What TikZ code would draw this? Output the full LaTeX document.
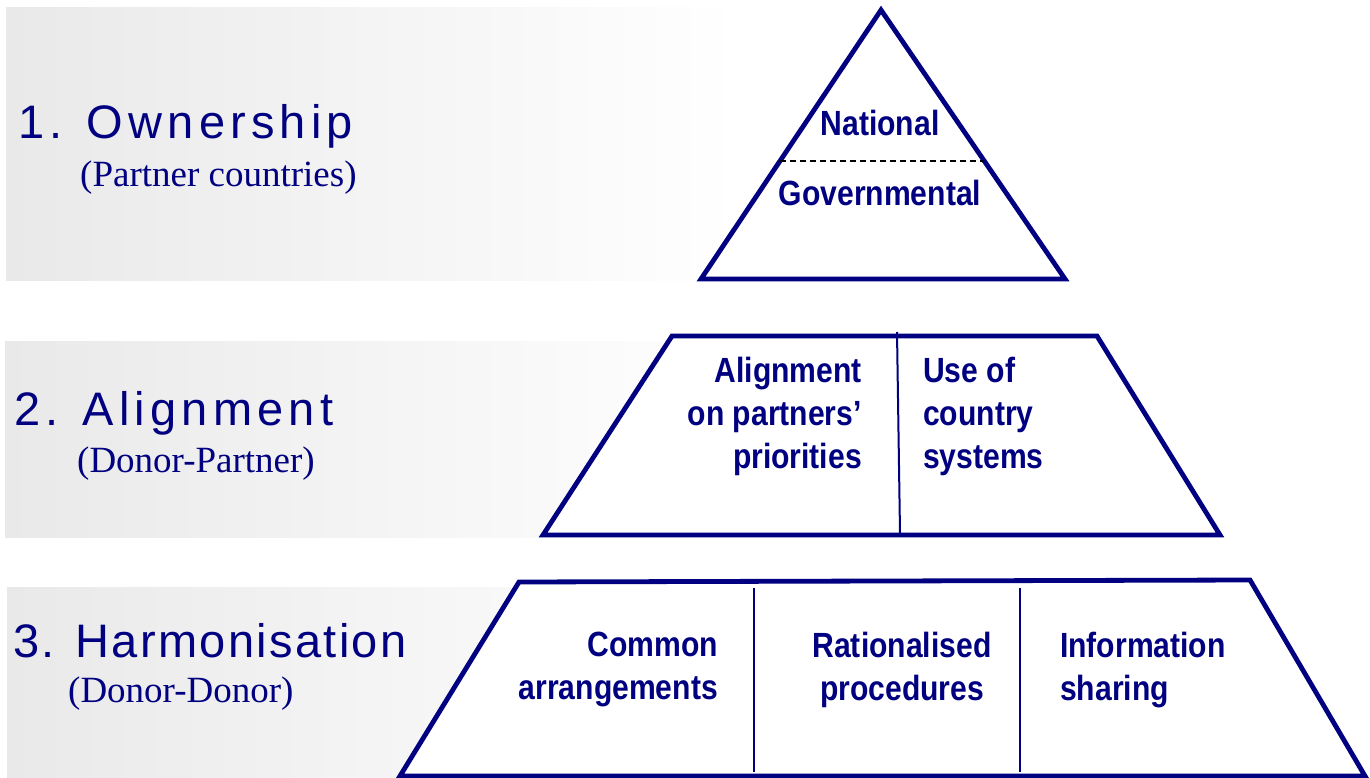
\documentclass[tikz,border=0pt]{standalone}
\usepackage{fontspec}
\usetikzlibrary{calc}
\newfontfamily\headfont{Liberation Sans}
\newfontfamily\subfont{Liberation Serif}
\newfontfamily\boxfont[FakeStretch=0.86]{Liberation Sans}
\definecolor{pyramidblue}{RGB}{0,0,128}
\definecolor{bandgray}{RGB}{233,233,233}
\begin{document}
\begin{tikzpicture}[x=1pt,y=-1pt,
    band/.style={left color=bandgray,right color=white},
    tier/.style={draw=pyramidblue,line width=4.8pt,fill=white},
    divider/.style={draw=pyramidblue,line width=2pt},
    heading/.style={anchor=base west,inner sep=0pt,text=pyramidblue,font={\headfont\fontsize{47}{50}\selectfont\addfontfeature{LetterSpace=#1}}},
    subheading/.style={anchor=base west,inner sep=0pt,text=pyramidblue,font=\subfont\fontsize{37}{40}\selectfont},
    tiertext/.style={inner sep=0pt,text=pyramidblue,font=\boxfont\bfseries\fontsize{35}{43}\selectfont}]
    \useasboundingbox (0,0) rectangle (1370,778);
    % grey bands behind the headings
    \shade[band] (6,8) rectangle (740,280);
    \shade[band] (5,341) rectangle (740,537);
    \shade[band] (7,587) rectangle (740,778);
    % 1. ownership
    \coordinate (apex) at (881,10);
    \coordinate (tri left) at (701,279);
    \coordinate (tri right) at (1065,279);
    \draw[tier] (apex) -- (tri right) -- (tri left) -- cycle;
    \coordinate (dash left) at ($(apex)!0.5613!(tri left)$);
    \coordinate (dash right) at ($(apex)!0.5613!(tri right)$);
    \draw[black,line width=1.2pt,dash pattern=on 6pt off 4pt] (dash left) -- (dash right);
    \node[tiertext,anchor=north] (national) at (880,110) {National};
    \node[tiertext,anchor=north] (governmental) at (880,180) {Governmental};
    % 2. alignment
    \draw[tier] (672,336) -- (1097,336) -- (1220,535) -- (543,535) -- cycle;
    \coordinate (align top) at (897,332);
    \coordinate (align bottom) at (900,533);
    \draw[divider] (align top) -- (align bottom);
    \node[tiertext,anchor=north east,align=right] (priorities) at (862,357) {Alignment\\on partners’\\priorities};
    \node[tiertext,anchor=north west,align=left] (systems) at (923,357) {Use of\\country\\systems};
    % 3. harmonisation
    \draw[tier] (519,582) -- (1250,580) -- (1365,776) -- (400,776) -- cycle;
    \coordinate (harm top a) at (754,588);
    \coordinate (harm bottom a) at (754,772);
    \coordinate (harm top b) at (1020,588);
    \coordinate (harm bottom b) at (1020,772);
    \draw[divider] (harm top a) -- (harm bottom a);
    \draw[divider] (harm top b) -- (harm bottom b);
    \node[tiertext,anchor=north east,align=right] (common) at (718,632) {Common\\arrangements};
    \node[tiertext,anchor=north,align=center] (procedures) at (902,632) {Rationalised\\procedures};
    \node[tiertext,anchor=north west,align=left] (sharing) at (1060,632) {Information\\sharing};
    % headings
    \node[heading=11] (ownership) at (18,139) {1. Ownership};
    \node[subheading] (partner countries) at (80,187) {(Partner countries)};
    \node[heading=11] (alignment) at (14,425) {2. Alignment};
    \node[subheading] (donor partner) at (77,472) {(Donor-Partner)};
    \node[heading=5] (harmonisation) at (13,657) {3. Harmonisation};
    \node[subheading] (donor donor) at (68,702) {(Donor-Donor)};
\end{tikzpicture}
\end{document}
